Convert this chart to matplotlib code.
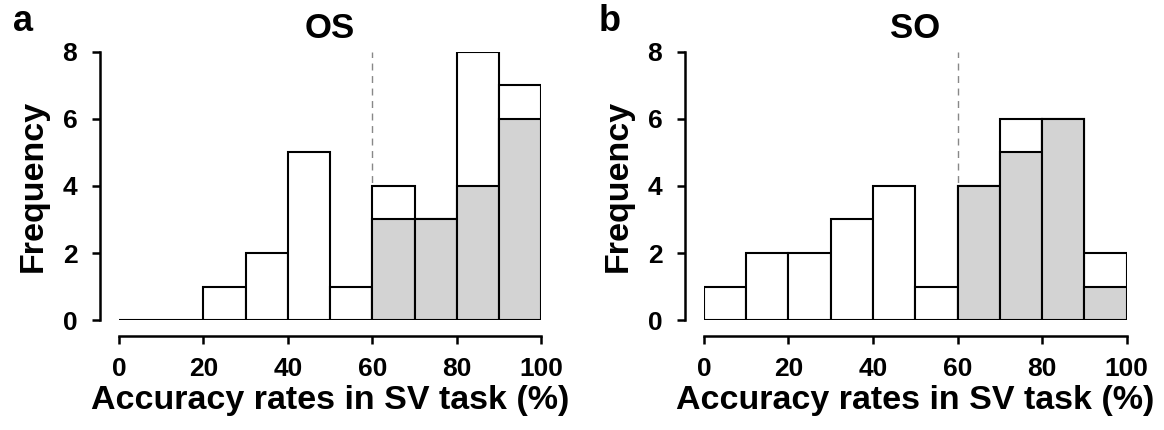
import matplotlib.pyplot as plt

plt.rcParams['font.family'] = ['Liberation Sans', 'DejaVu Sans']
plt.rcParams['font.weight'] = 'bold'

bin_edges = [0, 10, 20, 30, 40, 50, 60, 70, 80, 90]
bin_width = 10

os_total = [0, 0, 1, 2, 5, 1, 4, 3, 8, 7]
os_high = [0, 0, 0, 0, 0, 0, 3, 3, 4, 6]
so_total = [1, 2, 2, 3, 4, 1, 4, 6, 6, 2]
so_high = [0, 0, 0, 0, 0, 0, 4, 5, 6, 1]

panels = [('a', 'OS', os_total, os_high), ('b', 'SO', so_total, so_high)]
xticks = [0, 20, 40, 60, 80, 100]
yticks = [0, 2, 4, 6, 8]
cutoff = 60

fig = plt.figure(figsize=(11.64, 4.30), dpi=100)
lefts = [0.1022, 0.6048]

for left, (letter, title, total, high) in zip(lefts, panels):
    ax = fig.add_axes([left, 0.2558, 0.3630, 0.6233])
    ax.axvline(cutoff, ymin=0, ymax=1, color='#888888', ls=(0, (5, 4)), lw=1.0, zorder=0)
    ax.bar(bin_edges, total, width=bin_width, align='edge', color='white',
           edgecolor='black', linewidth=1.5, zorder=2)
    hx = [e for e, h in zip(bin_edges, high) if e >= cutoff]
    hy = [h for e, h in zip(bin_edges, high) if e >= cutoff]
    ax.bar(hx, hy, width=bin_width, align='edge', color='#d3d3d3',
           edgecolor='black', linewidth=1.5, zorder=3)

    ax.set_xlim(0, 100)
    ax.set_ylim(0, 8)
    ax.set_xticks(xticks)
    ax.set_yticks(yticks)
    for s in ['top', 'right']:
        ax.spines[s].set_visible(False)
    ax.spines['left'].set_position(('outward', 14))
    ax.spines['bottom'].set_position(('outward', 11.5))
    ax.spines['left'].set_bounds(0, 8)
    ax.spines['bottom'].set_bounds(0, 100)
    ax.spines['left'].set_linewidth(1.8)
    ax.spines['bottom'].set_linewidth(1.8)
    ax.tick_params(axis='both', length=6, width=1.8, labelsize=19)
    ax.tick_params(axis='x', pad=9)
    ax.tick_params(axis='y', pad=10)
    for lab in ax.get_xticklabels() + ax.get_yticklabels():
        lab.set_fontweight('bold')
    ax.set_xlabel('Accuracy rates in SV task (%)', fontsize=24.5, fontweight='bold', labelpad=3)
    ax.set_ylabel('Frequency', fontsize=24.5, fontweight='bold', labelpad=10)
    ax.set_title(title, fontsize=25, fontweight='bold', pad=10)
    ax.text(-0.25, 1.05, letter, transform=ax.transAxes, fontsize=26,
            fontweight='bold', ha='left', va='bottom')

fig.savefig('out.png', dpi=100)
